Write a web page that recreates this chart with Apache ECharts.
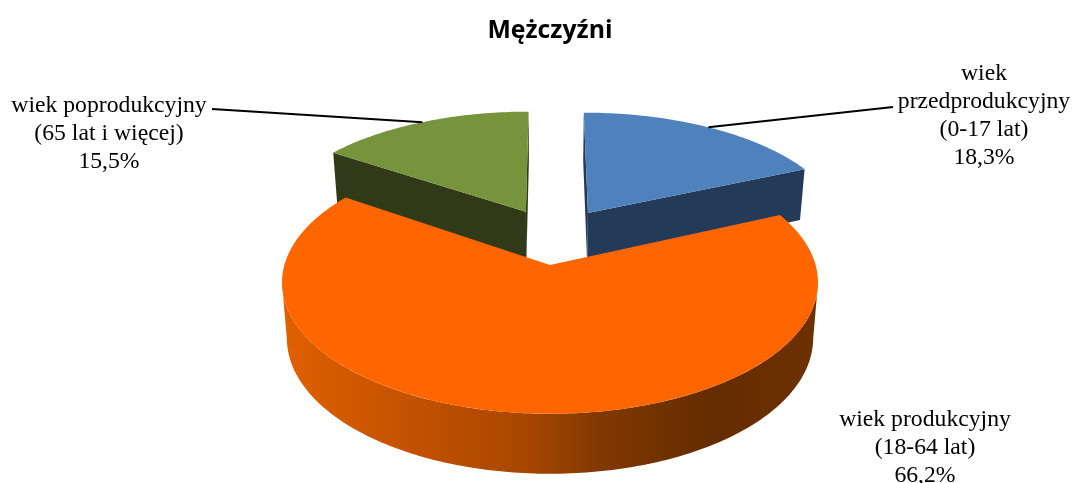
<!DOCTYPE html>
<html>
<head>
<meta charset="utf-8">
<title>Mężczyźni</title>
<script src="https://cdn.jsdelivr.net/npm/echarts@6/dist/echarts.min.js"></script>
<style>
  html, body { margin: 0; padding: 0; background: #fff; }
  #chart { width: 1076px; height: 483px; }
</style>
</head>
<body>
<div id="chart"></div>
<script>
var chartTitle = 'Mężczyźni'
var categories = ['wiek przedprodukcyjny', 'wiek produkcyjny', 'wiek poprodukcyjny']
var ageRanges = ['(0-17 lat)', '(18-64 lat)', '(65 lat i więcej)']
var shares = [18.3, 66.2, 15.5]

// kolory: wierzch, bok
var topColors = ['#4f81bd', '#ff6600', '#77933c']
var wallColors = ['#233a59', '#7a3600', '#313a18']

// przesuniecie wycinka od srodka (u, v) i splaszczenie krawedzi tylnej
var explode = [[0.151, 0.426, 0.975], [0, 0, 1], [-0.096, 0.437, 0.975]]
// polozenie opisow
var labelPos = [[984, 114], [925, 446], [109, 132]]
var leaderEnd = [[893, 107], null, [212, 109]]
var labelLines = [
  ['wiek', 'przedprodukcyjny', ageRanges[0]],
  ['wiek produkcyjny', ageRanges[1]],
  ['wiek poprodukcyjny', ageRanges[2]]
]

var cx = 550
var cy = 265
var rx = 265.6
var ry = 129
var persp = 0.133

function project(u, v, bottom) {
  var s = 1 / (1 + persp * v)
  var x = cx + rx * u * s
  var y = cy - ry * v * s
  if (bottom) {
    x = cx + (x - cx) * 0.982
    y = y + 55 - 5 * v
  }
  return [x, y]
}

function rimPoint(off, deg, bottom) {
  var a = deg * Math.PI / 180
  return project(off[0] + Math.sin(a), off[1] + Math.cos(a) * off[2], bottom)
}

function arcPoints(off, from, to, bottom) {
  var pts = []
  var n = Math.ceil(to - from)
  for (var i = 0; i <= n; i++) {
    pts.push(rimPoint(off, from + (to - from) * i / n, bottom))
  }
  return pts
}

function fmtShare(v) {
  return v.toFixed(1).replace('.', ',') + '%'
}

function renderSlice(params, api) {
  var i = params.dataIndex
  var before = 0
  for (var k = 0; k < i; k++) before += shares[k]
  var from = before * 3.6
  var to = from + api.value(0) * 3.6
  var off = explode[i]
  var apexTop = project(off[0], off[1], false)
  var apexBottom = project(off[0], off[1], true)
  var isFront = i === 1
  var base = isFront ? 10 : 0
  var children = []

  if (isFront) {
    // zewnetrzna sciana z gradientem, tylko od skrajnego punktu do skrajnego punktu
    var wallFrom = Math.max(from, 98)
    var wallTo = Math.min(to, 262)
    var band = arcPoints(off, wallFrom, wallTo, false).concat(arcPoints(off, wallFrom, wallTo, true).reverse())
    children.push({
      type: 'polygon',
      z2: base,
      shape: { points: band },
      style: {
        fill: new echarts.graphic.LinearGradient(0, 0, 1, 0, [
          { offset: 0, color: '#e06000' },
          { offset: 0.2, color: '#c85400' },
          { offset: 0.45, color: '#a84700' },
          { offset: 0.6, color: '#803800' },
          { offset: 0.8, color: '#642c00' },
          { offset: 1, color: '#6e3100' }
        ])
      }
    })
  } else {
    // sciany ciecia widoczne w szczelinie
    ;[from, to].forEach(function (deg) {
      children.push({
        type: 'polygon',
        z2: base,
        shape: { points: [apexTop, rimPoint(off, deg, false), rimPoint(off, deg, true), apexBottom] },
        style: { fill: wallColors[i] }
      })
    })
  }

  children.push({
    type: 'polygon',
    z2: base + 1,
    shape: { points: [apexTop].concat(arcPoints(off, from, to, false)) },
    style: { fill: topColors[i] }
  })

  var pos = labelPos[i]
  children.push({
    type: 'text',
    z2: 30,
    style: {
      text: labelLines[i].concat(fmtShare(api.value(0))).join('\n'),
      x: pos[0],
      y: pos[1] + 2,
      fill: '#000',
      font: '23.7px "Liberation Serif"',
      lineHeight: 28,
      align: 'center',
      verticalAlign: 'middle'
    }
  })

  if (leaderEnd[i]) {
    var mid = rimPoint(off, (from + to) / 2, false)
    children.push({
      type: 'line',
      z2: 20,
      shape: { x1: leaderEnd[i][0], y1: leaderEnd[i][1], x2: mid[0], y2: mid[1] },
      style: { stroke: '#000', lineWidth: 2 }
    })
  }

  return { type: 'group', children: children }
}

var chart = echarts.init(document.getElementById('chart'), null, { renderer: 'canvas' })
chart.setOption({
  animation: false,
  backgroundColor: '#fff',
  title: {
    text: chartTitle,
    left: 545,
    top: 13,
    textAlign: 'center',
    textStyle: { fontFamily: 'Open Sans', fontWeight: 'bold', fontSize: 24.8, color: '#000' }
  },
  series: [{
    type: 'custom',
    coordinateSystem: 'none',
    renderItem: renderSlice,
    data: shares.map(function (v, i) { return { name: categories[i], value: [v] } })
  }]
})
</script>
</body>
</html>
